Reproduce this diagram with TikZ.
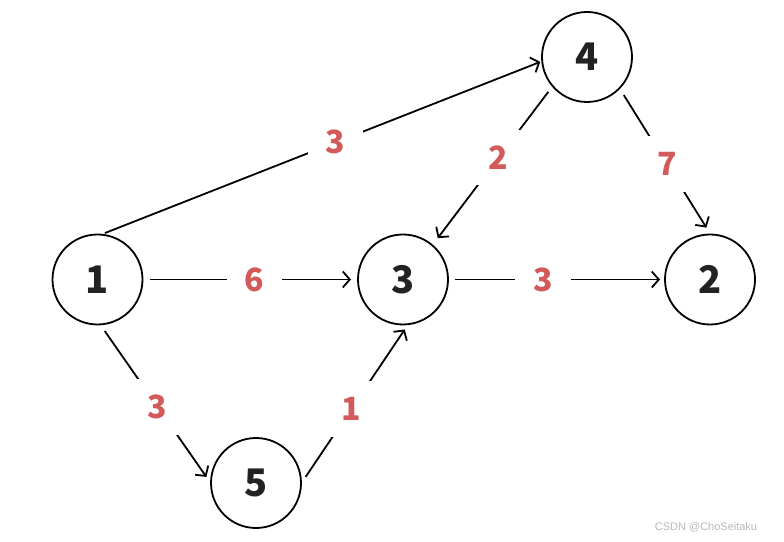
\documentclass[tikz,border=0pt]{standalone}
\usepackage{fontspec}
\newfontfamily\digfont{Noto Sans CJK SC}
\newfontfamily\wmfont{Liberation Sans}
\usetikzlibrary{arrows.meta,calc}
\definecolor{ink}{HTML}{222222}
\definecolor{wred}{HTML}{D35A5A}
\tikzset{
  vert/.style={circle,draw=black,line width=1.8pt,minimum size=90pt,inner sep=0pt,
    font=\digfont\bfseries\fontsize{38}{38}\selectfont,text=ink},
  wt/.style={fill=white,inner xsep=18pt,inner ysep=16pt,
    font=\digfont\bfseries\fontsize{32}{32}\selectfont,text=wred},
  edge/.style={line width=1.8pt,-{Straight Barb[length=7pt,width=16pt,line width=1.8pt]}},
}
\begin{document}
\begin{tikzpicture}[x=1pt,y=1pt]
\useasboundingbox (0,0) rectangle (784,541);
\node[vert] (n1) at (97.5,261.5) {1};
\node[vert] (n3) at (403,261.5) {3};
\node[vert] (n2) at (710,261.5) {2};
\node[vert] (n4) at (587,484) {4};
\node[vert] (n5) at (256,58) {5};
% edges
\draw[edge] ($(n1)+(81:47pt)$) -- node[wt,pos=0.53]{3} ($(n4)+(186:47pt)$);
\draw[edge] ($(n1)+(0:52pt)$) -- node[wt,pos=0.52]{6} ($(n3)+(180:52pt)$);
\draw[edge] ($(n3)+(0:52pt)$) -- node[wt,pos=0.43]{3} ($(n2)+(180:50pt)$);
\draw[edge] ($(n4)+(222:52pt)$) -- node[wt,pos=0.45]{2} ($(n3)+(50:54pt)$);
\draw[edge] ($(n4)+(-46:53pt)$) -- node[wt,pos=0.52]{7} ($(n2)+(94:52pt)$);
\draw[edge] ($(n1)+(-82:52pt)$) -- node[wt,pos=0.52]{3} ($(n5)+(173:50pt)$);
\draw[edge] ($(n5)+(7:50pt)$) -- node[wt,pos=0.46]{1} ($(n3)+(-88:50pt)$);
\node[font=\wmfont\fontsize{11}{11}\selectfont,text=black!28] (wm) at (706,14) {CSDN @ChoSeitaku};
\end{tikzpicture}
\end{document}
